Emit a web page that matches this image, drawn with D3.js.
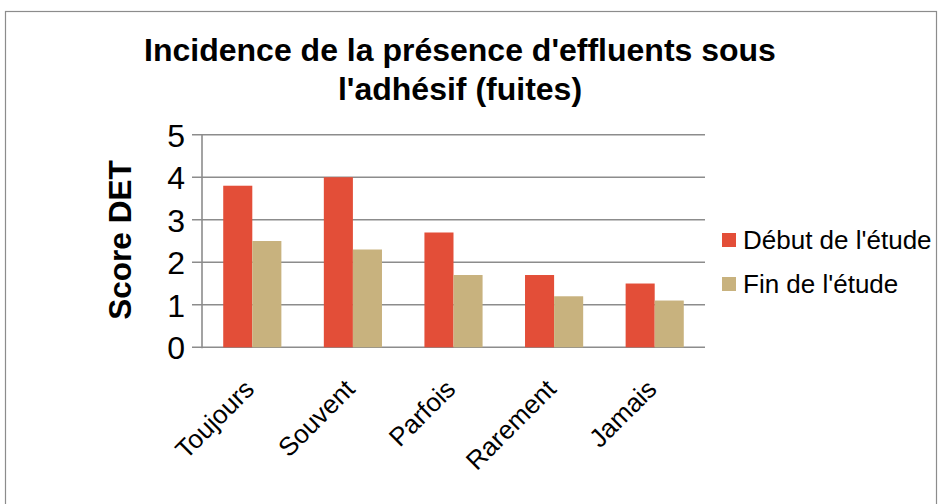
<!DOCTYPE html>
<html><head><meta charset="utf-8">
<script src="https://cdn.jsdelivr.net/npm/d3@7"></script>
<style>body{margin:0;background:#fff}svg{display:block;font-family:"Liberation Sans",Arial,sans-serif}</style>
</head><body><svg id="c" width="939" height="504"></svg>
<script>
const categories = ["Toujours","Souvent","Parfois","Rarement","Jamais"];
const seriesNames = ["Début de l'étude","Fin de l'étude"];
const debut = [3.8,4.0,2.7,1.7,1.5];
const fin = [2.5,2.3,1.7,1.2,1.1];
const yTicks = [0,1,2,3,4,5];
const colors = ["#E34E38","#C8B27E"];

const svg = d3.select("#c");
svg.append("rect").attr("x",5.5).attr("y",11.5).attr("width",931).attr("height",500)
  .attr("fill","#fff").attr("stroke","#8c8c8c").attr("stroke-width",1.2);

const L=202,R=705,T=134.7,B=347.3;
const x0 = d3.scaleBand().domain(categories).range([L,R]).paddingInner(0).paddingOuter(0);
const x1 = d3.scaleBand().domain(seriesNames).range([0,x0.bandwidth()]).paddingInner(0).paddingOuter(0.73);
const y = d3.scaleLinear().domain([0,5]).range([B,T]);

const g = svg.append("g");
g.selectAll("line.grid").data(yTicks).join("line").attr("class","grid")
  .attr("x1",192).attr("x2",R).attr("y1",d=>y(d)).attr("y2",d=>y(d))
  .attr("stroke","#8c8c8c").attr("stroke-width",1.6);
g.append("line").attr("x1",L).attr("x2",L).attr("y1",T).attr("y2",B+1)
  .attr("stroke","#8c8c8c").attr("stroke-width",1.6);

const data = categories.map((c,i)=>({c,vals:[debut[i],fin[i]]}));
const grp = g.selectAll("g.cat").data(data).join("g").attr("transform",d=>`translate(${x0(d.c)},0)`);
grp.selectAll("rect").data(d=>d.vals.map((v,j)=>({v,s:seriesNames[j],j})))
  .join("rect").attr("x",d=>x1(d.s)).attr("width",x1.bandwidth())
  .attr("y",d=>y(d.v)).attr("height",d=>B-y(d.v)).attr("fill",d=>colors[d.j]);

// y tick labels
const yAxis = d3.axisLeft(y).tickValues(yTicks).tickFormat(d3.format("d")).tickSize(0).tickPadding(0);
const ya = svg.append("g").attr("transform","translate(185,0)").call(yAxis);
ya.select(".domain").remove();
ya.selectAll("text").attr("font-size",32).attr("fill","#000").attr("font-family","'Liberation Sans',Arial,sans-serif").attr("dy","0.36em");

// x labels
const xAxis = d3.axisBottom(x0).tickSize(0).tickPadding(0);
const xa = svg.append("g").attr("transform",`translate(-3,${B+37})`).call(xAxis);
xa.select(".domain").remove();
xa.selectAll("text").attr("font-size",26).attr("fill","#000").attr("font-family","'Liberation Sans',Arial,sans-serif")
  .attr("text-anchor","end").attr("dy","0.35em").attr("transform","rotate(-45)");

// y title
svg.append("text").attr("transform","translate(131,240) rotate(-90)").attr("text-anchor","middle")
  .attr("font-size",31.5).attr("font-weight","bold").text("Score DET");

// title
const title = svg.append("text").attr("text-anchor","middle").attr("font-size",32).attr("font-weight","bold");
title.append("tspan").attr("x",460).attr("y",61).text("Incidence de la présence d'effluents sous");
title.append("tspan").attr("x",460).attr("y",100).text("l'adhésif (fuites)");

// legend
const leg = svg.append("g").selectAll("g").data(seriesNames).join("g")
  .attr("transform",(d,i)=>`translate(722,${233+i*44})`);
leg.append("rect").attr("width",14).attr("height",14).attr("fill",(d,i)=>colors[i]);
leg.append("text").attr("x",21).attr("y",16).attr("font-size",26).text(d=>d);
</script></body></html>
